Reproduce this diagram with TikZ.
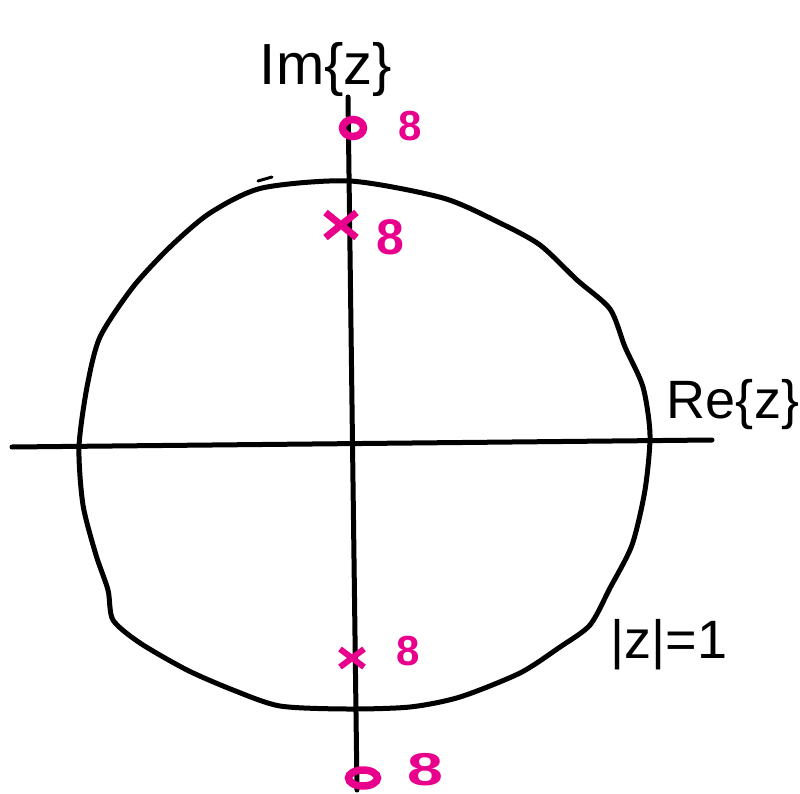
\documentclass[tikz,border=0pt]{standalone}
\usepackage{fontspec}
\setmainfont{Liberation Sans}
\usetikzlibrary{shapes.misc,shapes.geometric}
\definecolor{mag}{RGB}{232,0,140}
\begin{document}
\begin{tikzpicture}[x=1pt,y=-1pt,
  ink/.style={line width=5pt,line cap=round,line join=round,black},
  zero/.style={draw=mag,line width=7.5pt,ellipse,inner sep=0pt},
  pole/.style={draw=mag,line width=7pt,cross out,inner sep=0pt},
  mult/.style={text=mag,font=\fontsize{42}{42}\selectfont\bfseries,inner sep=0pt},
  lab/.style={font=\fontsize{54}{54}\selectfont,inner sep=0pt}]
\useasboundingbox (0,0) rectangle (800,794);
% axes
\coordinate (xl) at (12,447);
\coordinate (xr) at (712,440);
\coordinate (yt) at (348,97);
\coordinate (yb) at (357,790);
\draw[ink] (xl) -- (xr);
\draw[ink] (yt) -- (yb);
% unit circle
\draw[ink] plot[smooth cycle,tension=0.45] coordinates {
 (350,181) (443,198) (500,223) (540,245) (577,280) (610,309) (625,347)
 (643,387) (650,435) (645,490) (632,545) (610,588) (590,625) (560,647)
 (520,673) (460,697) (410,707) (347,709) (280,706) (233,690) (187,670)
 (140,643) (113,620) (108,590) (96,555) (83,505) (79,447) (87,387)
 (100,337) (133,287) (170,247) (210,213) (262,188)};
\draw[ink,line width=3pt] (258,181) -- (272,177);
% zeros and poles
\node[zero,minimum width=21pt,minimum height=17pt] (z1) at (353,128) {};
\node[zero,minimum width=29pt,minimum height=16pt] (z2) at (363,778) {};
\node[pole,minimum width=24pt,minimum height=18pt] (p1) at (341,225) {};
\node[pole,line width=6pt,minimum width=18pt,minimum height=12pt] (p2) at (352,658) {};
\node[mult] (m1) at (410,126) {8};
\node[mult,font=\fontsize{50}{50}\selectfont\bfseries] (m2) at (390,237) {8};
\node[mult] (m3) at (408,651) {8};
\node[mult,font=\fontsize{46}{46}\selectfont\bfseries,xscale=1.4] (m4) at (425,770) {8};
% labels
\node[lab,font=\fontsize{58}{58}\selectfont] (im) at (326,70) {Im\{z\}};
\node[lab] (re) at (733,405) {Re\{z\}};
\node[lab] (uc) at (669,645) {|z|=1};
\end{tikzpicture}
\end{document}
